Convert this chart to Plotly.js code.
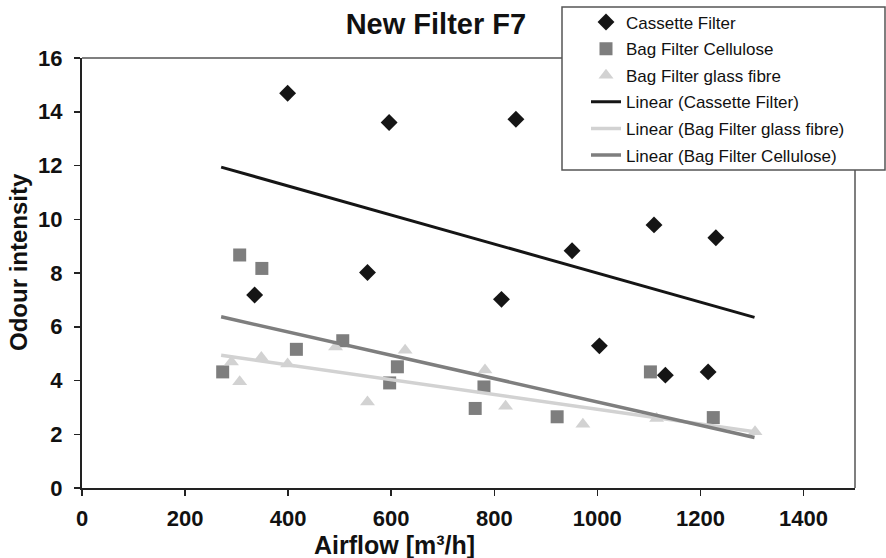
<!DOCTYPE html>
<html>
<head>
<meta charset="utf-8">
<script src="https://cdn.plot.ly/plotly-3.0.1.min.js"></script>
<style>html,body{margin:0;padding:0;background:#fff;}#chart{width:886px;height:558px;}</style>
</head>
<body>
<div id="chart"></div>
<script>
// Data
var cassetteX = [399, 335, 554, 596, 842, 814, 951, 1004, 1110, 1132, 1215, 1230];
var cassetteY = [14.69, 7.18, 8.02, 13.60, 13.72, 7.02, 8.83, 5.29, 9.79, 4.20, 4.32, 9.31];

var celluloseX = [273, 306, 349, 416, 506, 597, 612, 763, 780, 922, 1103, 1225];
var celluloseY = [4.32, 8.67, 8.17, 5.16, 5.48, 3.91, 4.51, 2.96, 3.76, 2.65, 4.32, 2.62];

var glassX = [290, 306, 348, 399, 492, 554, 627, 782, 822, 972, 1115, 1306];
var glassY = [4.69, 3.95, 4.86, 4.61, 5.25, 3.20, 5.13, 4.39, 3.04, 2.37, 2.59, 2.09];

// Linear trendline end points as drawn in the reference
var trendX = [270, 1305];
var cassetteTrendY = [11.94, 6.35];
var glassTrendY = [4.94, 2.09];
var celluloseTrendY = [6.37, 1.88];

var xTicks = [0, 200, 400, 600, 800, 1000, 1200, 1400];
var yTicks = [0, 2, 4, 6, 8, 10, 12, 14, 16];

var names = ['Cassette Filter', 'Bag Filter Cellulose', 'Bag Filter glass fibre',
             'Linear (Cassette Filter)', 'Linear (Bag Filter glass fibre)', 'Linear (Bag Filter Cellulose)'];

var traces = [
  {x: cassetteX, y: cassetteY, mode: 'markers', type: 'scatter', name: names[0], legendrank: 1, legendgroup: 'a',
   marker: {symbol: 'diamond', size: 13, color: '#151515'}},
  {x: celluloseX, y: celluloseY, mode: 'markers', type: 'scatter', name: names[1], legendrank: 2, legendgroup: 'b',
   marker: {symbol: 'square', size: 13, color: '#7e7e7e'}},
  {x: glassX, y: glassY, mode: 'markers', type: 'scatter', name: names[2], legendrank: 3, legendgroup: 'c',
   marker: {symbol: 'triangle-up', size: 13, color: '#d2d2d2'}},
  {x: trendX, y: cassetteTrendY, mode: 'lines', type: 'scatter', name: names[3], legendrank: 4, legendgroup: 'd',
   line: {color: '#151515', width: 3}},
  {x: trendX, y: glassTrendY, mode: 'lines', type: 'scatter', name: names[4], legendrank: 5, legendgroup: 'e',
   line: {color: '#d2d2d2', width: 3.5}},
  {x: trendX, y: celluloseTrendY, mode: 'lines', type: 'scatter', name: names[5], legendrank: 6, legendgroup: 'f',
   line: {color: '#7e7e7e', width: 3.5}}
];

var fam = 'Liberation Sans, Arial, sans-serif';

var layout = {
  width: 886, height: 558,
  margin: {l: 82, r: 31, t: 58, b: 70, autoexpand: false},
  paper_bgcolor: '#fff', plot_bgcolor: '#fff',
  font: {family: fam, color: '#111'},
  title: {text: '<b>New Filter F7</b>', font: {size: 29, color: '#111'},
          xref: 'container', yref: 'container', x: 0.492, y: 0.957, xanchor: 'center', yanchor: 'middle'},
  showlegend: true,
  legend: {xref: 'container', yref: 'container', x: 562 / 886, y: 1 - 4.5 / 558, xanchor: 'left', yanchor: 'top',
           bgcolor: 'rgba(0,0,0,0)', borderwidth: 0, font: {size: 17, color: '#111'},
           tracegroupgap: 1.5, indentation: 24, traceorder: 'grouped'},
  xaxis: {range: [0, 1500], tickvals: xTicks, ticktext: xTicks.map(String), automargin: false,
          showgrid: false, zeroline: false, showline: true, linecolor: '#222', linewidth: 2,
          mirror: false, ticks: 'outside', ticklen: 6, tickwidth: 1.5, tickcolor: '#222',
          ticklabelstandoff: 4, tickfont: {size: 22, color: '#111', family: fam, weight: 'bold'}},
  yaxis: {range: [0, 16], tickvals: yTicks, ticktext: yTicks.map(String), automargin: false,
          showgrid: false, zeroline: false, showline: true, linecolor: '#222', linewidth: 2,
          mirror: false, ticks: 'outside', ticklen: 6, tickwidth: 1.5, tickcolor: '#222',
          ticklabelstandoff: 7, tickfont: {size: 22, color: '#111', family: fam, weight: 'bold'}},
  xaxis2: {overlaying: 'x', anchor: 'y', range: [0, 1500], tickvals: xTicks, showticklabels: false,
           showgrid: false, zeroline: false, showline: false, ticks: 'inside', ticklen: 6, tickwidth: 1.5, tickcolor: '#222'},
  yaxis2: {overlaying: 'y', anchor: 'x', range: [0, 16], tickvals: yTicks, showticklabels: false,
           showgrid: false, zeroline: false, showline: false, ticks: 'inside', ticklen: 6, tickwidth: 1.5, tickcolor: '#222'},
  shapes: [
    {type: 'line', xref: 'paper', yref: 'paper', x0: 0, x1: 1, y0: 1, y1: 1, line: {color: '#555', width: 1.5}, layer: 'below'},
    {type: 'line', xref: 'paper', yref: 'paper', x0: 1, x1: 1, y0: 0, y1: 1, line: {color: '#555', width: 1.5}, layer: 'below'},
    {type: 'rect', xref: 'paper', yref: 'paper', x0: (562 - 82) / 773, x1: (885 - 82) / 773,
     y0: (488 - 170) / 430, y1: (488 - 7) / 430, fillcolor: '#fff', line: {color: '#555', width: 1.5}, layer: 'above'}
  ],
  annotations: [
    {text: '<b>Airflow [m³/h]</b>', xref: 'paper', yref: 'paper', x: (394 - 82) / 773, y: -(545 - 488) / 430,
     xanchor: 'center', yanchor: 'middle', showarrow: false, font: {size: 25, color: '#111'}},
    {text: '<b>Odour intensity</b>', xref: 'paper', yref: 'paper', x: -(82 - 18) / 773, y: (488 - 262) / 430,
     xanchor: 'center', yanchor: 'middle', textangle: -90, showarrow: false, font: {size: 24, color: '#111'}}
  ]
};

Plotly.newPlot('chart', traces, layout, {displayModeBar: false, staticPlot: true});
</script>
</body>
</html>
